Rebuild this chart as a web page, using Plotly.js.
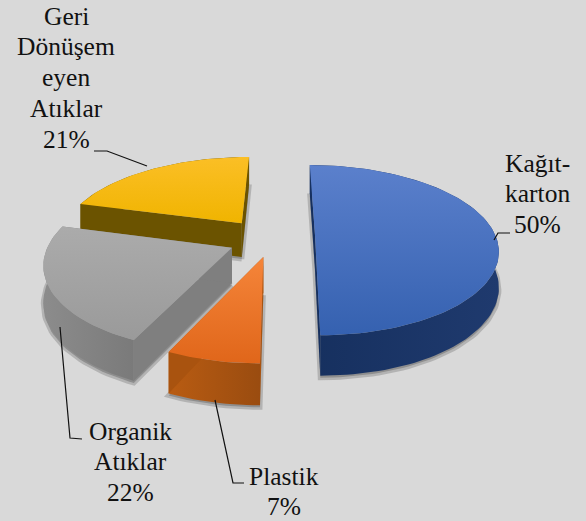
<!DOCTYPE html>
<html>
<head>
<meta charset="utf-8">
<script src="https://cdn.plot.ly/plotly-3.0.1.min.js"></script>
<style>html,body{margin:0;padding:0;background:#d9d9d9;overflow:hidden}</style>
</head>
<body>
<div id="chart" style="width:586px;height:521px"></div>
<script>
// Data
const categories = [["Kağıt-", "karton"], ["Plastik"], ["Organik", "Atıklar"], ["Geri", "Dönüşem", "eyen", "Atıklar"]];
const values = [50, 7, 22, 21];

// Slice styling and explosion (pie units)
const explodeX = [0.172, -0.11, -0.282, -0.24];
const explodeY = [-0.05, 0.19, 0.088, -0.2];
const topColors = [["#5b80cc", "#3561b0"], ["#f5853a", "#e0661a"], ["#ababab", "#9a9a9a"], ["#fbbf26", "#f0b400"]];
const wallColors = [["#16305f", "#1f3a6e"], ["#b95c12", "#9a4c10"], ["#8c8c8c", "#7a7a7a"], ["#6b5300", "#6b5300"]];
const cutColors = ["#16305f", "#a9530f", "#7f7f7f", "#6b5300"];
const drawOrder = [3, 2, 1, 0];

// Label text anchors (centre x, y of the first line)
const labelX = [537, 284, 130, 66];
const labelY = [163, 476, 431, 16];
const lineStep = 30.9;
const leaderX = [[510, 498, 494], [244, 233, 215], [82, 70, 60], [94, 107, 147]];
const leaderY = [[233, 233, 240], [483, 483, 400], [439, 438, 327], [151, 151, 166]];

// Projection
const vx = 284, vy = 240, rx = 182, ry = 86.5, k = 0.167, depth = 35;
const project = (X, Y, down) => {
  const s = 1 + k * Y;
  return [vx + rx * X * s, vy + ry * Y * s + (down ? depth * s : 0)];
};

const total = values.reduce((a, b) => a + b, 0);
const starts = [];
values.reduce((acc, v, i) => { starts[i] = acc; return acc + v; }, 0);

const traces = [];
const poly = (pts, extra) => traces.push(Object.assign({
  type: "scatter", mode: "lines", x: pts.map(p => p[0]), y: pts.map(p => p[1]),
  fill: "toself", hoverinfo: "skip", showlegend: false, line: {width: 0}
}, extra));

drawOrder.forEach(i => {
  const a0 = starts[i] / total * 2 * Math.PI, a1 = (starts[i] + values[i]) / total * 2 * Math.PI;
  const ax = explodeX[i], ay = explodeY[i];
  const steps = Math.max(12, Math.round(values[i] * 2));
  const arcW = [];
  for (let n = 0; n <= steps; n++) {
    const a = a0 + (a1 - a0) * n / steps;
    arcW.push([ax + Math.sin(a), ay - Math.cos(a)]);
  }
  const top = arcW.map(p => project(p[0], p[1], false));
  const bot = arcW.map(p => project(p[0], p[1], true));
  const apexT = project(ax, ay, false), apexB = project(ax, ay, true);
  const wall = top.concat(bot.slice().reverse());
  const cutA = [apexT, top[0], bot[0], apexB];
  const cutB = [apexT, top[steps], bot[steps], apexB];
  const sil = [apexB].concat(bot).concat([apexB]);
  const xs = top.map(p => p[0]), ys = top.map(p => p[1]).concat(apexT[1]);
  // soft shadow below the extruded body
  const shadow = sil.map(p => [p[0], p[1] + 2]);
  poly(shadow, {fillcolor: "rgba(90,90,90,0.45)", line: {width: 5, color: "rgba(110,110,110,0.35)"}});
  poly(wall, {fillgradient: {type: "horizontal", start: Math.min(...xs), stop: Math.max(...xs),
    colorscale: [[0, wallColors[i][0]], [1, wallColors[i][1]]]}});
  poly(cutA, {fillcolor: cutColors[i]});
  poly(cutB, {fillcolor: cutColors[i]});
  poly([apexT].concat(top).concat([apexT]), {fillgradient: {type: "vertical", start: Math.min(...ys), stop: Math.max(...ys),
    colorscale: [[0, topColors[i][0]], [1, topColors[i][1]]]}});
});

values.forEach((v, i) => traces.push({
  type: "scatter", mode: "lines", x: leaderX[i], y: leaderY[i], hoverinfo: "skip",
  showlegend: false, line: {color: "#111111", width: 1.2}
}));

const annotations = [];
values.forEach((v, i) => {
  categories[i].concat(v + "%").forEach((line, n) => annotations.push({
    x: labelX[i], y: labelY[i] + n * lineStep, xref: "x", yref: "y", showarrow: false,
    xanchor: "center", yanchor: "middle", align: "center", text: line,
    font: {family: "'Liberation Serif', 'Times New Roman', serif", size: 25.5, color: "#111111"}
  }));
});

Plotly.newPlot("chart", traces, {
  width: 586, height: 521, margin: {l: 0, r: 0, t: 0, b: 0},
  paper_bgcolor: "#d9d9d9", plot_bgcolor: "#d9d9d9", showlegend: false,
  xaxis: {range: [0, 586], visible: false, fixedrange: true},
  yaxis: {range: [521, 0], visible: false, fixedrange: true},
  annotations
}, {displayModeBar: false, staticPlot: true});
</script>
</body>
</html>
